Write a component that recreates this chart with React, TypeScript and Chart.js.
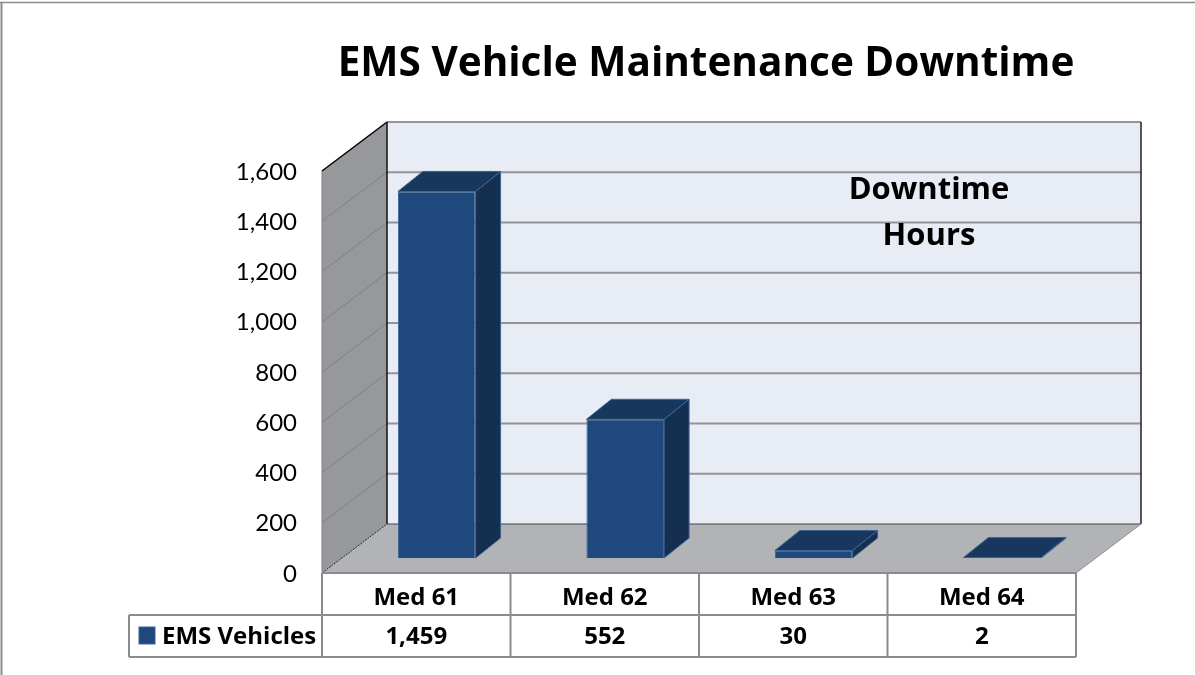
import React, { useEffect, useRef } from "react";
import { Chart, registerables } from "chart.js";

Chart.register(...registerables);

const categories = ["Med 61", "Med 62", "Med 63", "Med 64"];
const seriesName = "EMS Vehicles";
const seriesValues = [1459, 552, 30, 2];
const titleText = "EMS Vehicle Maintenance Downtime";
const noteLines = ["Downtime", "Hours"];
const FONT = "Lato, sans-serif";
const BOLD = "'Open Sans', sans-serif";

const WALL_DX = 65;
const WALL_DY = -49;
const BAR_SHIFT_X = 20.5;
const BAR_SHIFT_Y = -15;
const BAR_DX = 25;
const BAR_DY = -20;

function poly(ctx: CanvasRenderingContext2D, pts: number[][], fill?: string, stroke?: string, lw = 1) {
  ctx.beginPath();
  pts.forEach((p, i) => (i ? ctx.lineTo(p[0], p[1]) : ctx.moveTo(p[0], p[1])));
  ctx.closePath();
  if (fill) { ctx.fillStyle = fill; ctx.fill(); }
  if (stroke) { ctx.strokeStyle = stroke; ctx.lineWidth = lw; ctx.stroke(); }
}

function line(ctx: CanvasRenderingContext2D, x1: number, y1: number, x2: number, y2: number, color: string, lw: number) {
  ctx.beginPath();
  ctx.moveTo(x1, y1);
  ctx.lineTo(x2, y2);
  ctx.strokeStyle = color;
  ctx.lineWidth = lw;
  ctx.stroke();
}

const scenePlugin = {
  id: "scene3d",
  beforeDatasetsDraw(chart: any) {
    const { ctx, chartArea: a, scales } = chart;
    const y = scales.y;
    const L = a.left, R = a.right, T = a.top, B = a.bottom;
    const dx = WALL_DX, dy = WALL_DY;
    ctx.save();
    // outer frame
    line(ctx, 1.5, 2, 1.5, 675, "#8c8c8c", 2);
    line(ctx, 0, 2.5, 1195, 2.5, "#8c8c8c", 1.5);
    // back wall, side wall, floor
    poly(ctx, [[L + dx, T + dy], [R + dx, T + dy], [R + dx, B + dy], [L + dx, B + dy]], "#e8ecf5");
    poly(ctx, [[L, T], [L + dx, T + dy], [L + dx, B + dy], [L, B]], "#97989b");
    poly(ctx, [[L, B], [L + dx, B + dy], [R + dx, B + dy], [R, B]], "#b1b3b6");
    // grid lines from the value scale
    y.ticks.forEach((t: any) => {
      const py = y.getPixelForValue(t.value);
      if (t.value > 0) line(ctx, L + dx, py + dy, R + dx, py + dy, "#939497", 2);
      if (t.value > 0 && t.value < y.max) line(ctx, L, py, L + dx, py + dy, "#808184", 1);
    });
    // edges
    line(ctx, L + dx, T + dy, L + dx, B + dy, "#111", 1.5);
    line(ctx, R + dx, T + dy, R + dx, B + dy, "#222", 1.5);
    line(ctx, L + dx, B + dy, R + dx, B + dy, "#444", 1);
    line(ctx, L, T, L + dx, T + dy, "#000", 1.5);
    line(ctx, L, T, L, B, "#808080", 1);
    ctx.setLineDash([2, 1]);
    line(ctx, L, B, L + dx, B + dy, "#222", 1);
    ctx.setLineDash([]);
    line(ctx, R, B, R + dx, B + dy, "#8e8f92", 1);
    // bar sides and tops
    const meta = chart.getDatasetMeta(0);
    meta.data.forEach((el: any) => {
      const l = el.x - el.width / 2 + BAR_SHIFT_X;
      const r = el.x + el.width / 2 + BAR_SHIFT_X;
      const t = el.y + BAR_SHIFT_Y;
      const b = el.base + BAR_SHIFT_Y;
      poly(ctx, [[r, t], [r + BAR_DX, t + BAR_DY], [r + BAR_DX, b + BAR_DY], [r, b]], "#152f50", "#3d6595", 1);
      poly(ctx, [[l, t], [l + BAR_DX, t + BAR_DY], [r + BAR_DX, t + BAR_DY], [r, t]], "#17375e", "#3d6595", 1);
    });
    ctx.restore();
    // bars themselves sit in the middle of the floor
    ctx.save();
    ctx.translate(BAR_SHIFT_X, BAR_SHIFT_Y);
  },
  afterDatasetsDraw(chart: any) {
    const { ctx, chartArea: a, scales } = chart;
    ctx.restore();
    const x = scales.x;
    const L = a.left, R = a.right, B = a.bottom;
    const rowH = 42;
    const gray = "#8c8c8c";
    ctx.save();
    // data table
    ctx.fillStyle = "#fff";
    ctx.fillRect(129, B + rowH, L - 129, rowH);
    line(ctx, L, B, R, B, gray, 2);
    line(ctx, 129, B + rowH, R, B + rowH, gray, 2);
    line(ctx, 129, B + 2 * rowH, R, B + 2 * rowH, gray, 2);
    line(ctx, 129, B + rowH, 129, B + 2 * rowH, gray, 2);
    const edges = [L, ...categories.map((_, i) => x.getPixelForValue(i) + (R - L) / categories.length / 2)];
    edges.forEach((ex) => line(ctx, ex, B, ex, B + 2 * rowH, gray, 2));
    // table values
    ctx.fillStyle = "#000";
    ctx.font = `bold 24px ${BOLD}`;
    ctx.textAlign = "center";
    ctx.textBaseline = "middle";
    seriesValues.forEach((v, i) => {
      ctx.fillText(v.toLocaleString("en-US"), x.getPixelForValue(i), B + rowH * 1.5 + 1);
    });
    // legend key
    ctx.fillStyle = "#1f497d";
    ctx.fillRect(139, B + rowH + 12, 16, 17);
    ctx.strokeStyle = "#3d6595";
    ctx.lineWidth = 1;
    ctx.strokeRect(139, B + rowH + 12, 16, 17);
    ctx.fillStyle = "#000";
    ctx.textAlign = "left";
    ctx.fillText(seriesName, 162, B + rowH * 1.5 + 1);
    // note on the back wall
    ctx.textAlign = "center";
    ctx.font = `bold 31px ${BOLD}`;
    ctx.fillText(noteLines[0], 929, 190);
    ctx.fillText(noteLines[1], 929, 236);
    // title
    ctx.font = `bold 40.5px ${BOLD}`;
    ctx.fillText(titleText, 706, 64);
    ctx.restore();
  },
};

export default function App() {
  const ref = useRef<HTMLCanvasElement>(null);
  useEffect(() => {
    const chart = new Chart(ref.current!, {
      type: "bar",
      data: {
        labels: categories,
        datasets: [
          {
            label: seriesName,
            data: seriesValues,
            backgroundColor: "#1f497d",
            borderColor: "#3d6595",
            borderWidth: 1,
            barPercentage: 0.412,
            categoryPercentage: 1,
          },
        ],
      },
      options: {
        responsive: false,
        animation: false,
        layout: { padding: { left: 222, right: 119, top: 171, bottom: 60 } },
        plugins: { legend: { display: false }, title: { display: false }, tooltip: { enabled: false } },
        scales: {
          x: {
            type: "category",
            grid: { display: false, drawTicks: false },
            border: { display: false },
            ticks: { color: "#000", font: { family: BOLD, size: 24, weight: "bold" }, padding: 11, maxRotation: 0 },
            afterFit(s: any) { s.height = 42; },
          },
          y: {
            min: 0,
            max: 1600,
            grid: { display: false, drawTicks: false },
            border: { display: false },
            ticks: {
              stepSize: 200,
              color: "#000",
              font: { family: FONT, size: 24 },
              padding: 25,
              labelOffset: 1,
              callback: (v: any) => Number(v).toLocaleString("en-US"),
            },
            afterFit(s: any) { s.width = 100; },
          },
        },
      },
      plugins: [scenePlugin],
    } as any);
    return () => chart.destroy();
  }, []);
  return (
    <canvas
      ref={ref}
      width={1195}
      height={675}
      style={{ position: "fixed", left: 0, top: 0, width: 1195, height: 675, display: "block" }}
    />
  );
}
